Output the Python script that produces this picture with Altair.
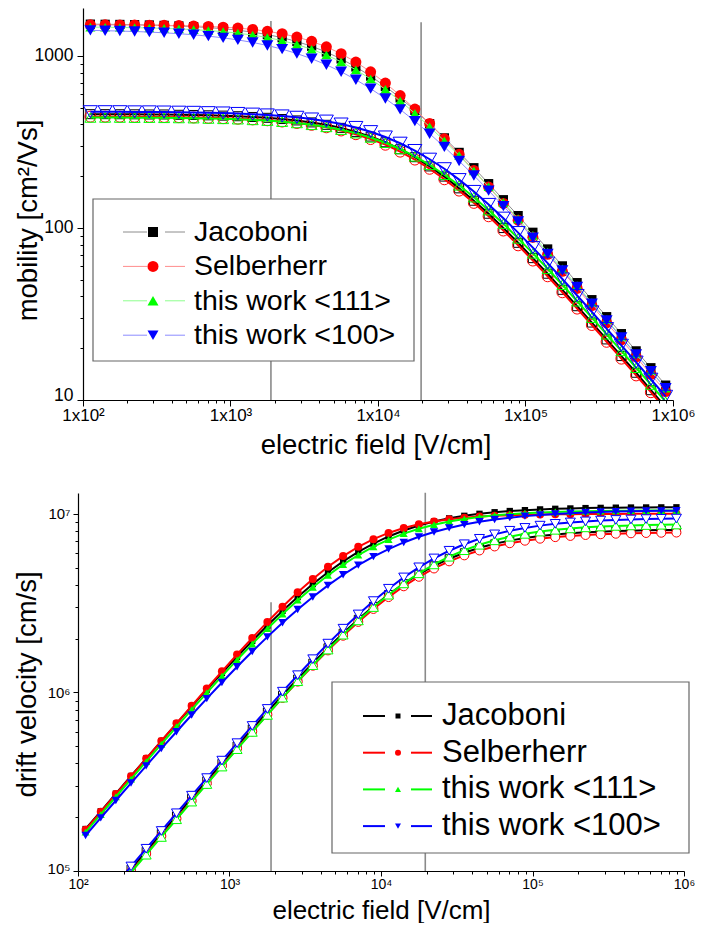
import altair as alt
import pandas as pd

# ---------------- data ----------------
E_FIELD = [112.2, 141.3, 177.8, 223.9, 281.8, 354.8, 446.7, 562.3, 707.9, 891.3,
           1122, 1413, 1778, 2239, 2818, 3548, 4467, 5623, 7079, 8913,
           11220, 14130, 17780, 22390, 28180, 35480, 44670, 56230, 70790, 89130,
           112200, 141300, 177800, 223900, 281800, 354800, 446700, 562300, 707900, 891300]

MODELS = ["Jacoboni", "Selberherr", "this work <111>", "this work <100>"]

# mobility [cm2/Vs], solid symbols
MU_JAC_F = [1531, 1528, 1525, 1520, 1514, 1506, 1495, 1481, 1463, 1441, 1412, 1376, 1332, 1278, 1214, 1139, 1054, 962, 864, 764,
            665, 571, 483, 404, 334, 275, 224, 181, 146, 118, 94.4, 75.5, 60.2, 48.1, 38.3, 30.5, 24.3, 19.3, 15.4, 12.2]
MU_SEL_F = [1518, 1517, 1516, 1514, 1511, 1507, 1502, 1495, 1485, 1471, 1453, 1427, 1392, 1347, 1289, 1217, 1130, 1031, 922, 809,
            696, 589, 491, 405, 330, 268, 216, 173, 139, 111, 88.3, 70.3, 56.0, 44.5, 35.4, 28.1, 22.4, 17.8, 14.1, 11.2]
MU_111_F = [1472, 1469, 1465, 1461, 1455, 1447, 1437, 1423, 1406, 1385, 1357, 1323, 1280, 1228, 1166, 1094, 1013, 925, 831, 735,
            639, 548, 464, 388, 321, 264, 215, 174, 141, 113, 90.7, 72.5, 57.9, 46.2, 36.8, 29.3, 23.3, 18.5, 14.8, 11.7]
MU_100_F = [1409, 1403, 1396, 1388, 1377, 1364, 1348, 1328, 1304, 1275, 1240, 1199, 1151, 1096, 1033, 964, 889, 810, 728, 646,
            566, 489, 418, 353, 296, 245, 202, 165, 134, 109, 87.8, 70.7, 56.7, 45.4, 36.3, 29.0, 23.1, 18.4, 14.7, 11.7]
# mobility, open symbols
MU_JAC_O = [459, 459, 458.5, 458, 457, 457, 455, 454, 452, 450, 446.5, 442, 437, 430, 422, 411, 398, 382, 362, 340,
            315, 287, 258, 228, 199, 170, 144, 121, 99.9, 82.0, 66.8, 54.2, 43.7, 35.1, 28.2, 22.5, 18.0, 14.4, 11.4, 9.11]
MU_SEL_O = [444, 444, 443.5, 443, 442.5, 442, 441, 439, 437, 435, 432, 428, 423, 416, 408, 398, 385, 369, 351, 329,
            305, 278, 250, 221, 192, 165, 140, 117, 96.7, 79.3, 64.7, 52.4, 42.3, 34.0, 27.3, 21.8, 17.4, 13.9, 11.1, 8.82]
MU_111_O = [439, 439, 438.7, 438, 438, 437, 436, 435, 433, 431, 429, 425, 421, 415, 408, 398, 387, 373, 356, 336,
            313, 288, 261, 233, 204, 177, 151, 127, 106, 87.0, 71.2, 57.9, 46.8, 37.5, 30.1, 24.1, 19.3, 15.4, 12.3, 9.77]
MU_100_O = [474, 474, 474, 473, 473, 472, 471, 470, 468, 466, 463, 459, 454, 448, 440, 430, 418, 402, 384, 363,
            338, 311, 282, 251, 221, 191, 163, 137, 114, 94.0, 76.9, 62.5, 50.5, 40.5, 32.5, 26.0, 20.8, 16.6, 13.2, 10.5]

# drift velocity [cm/s], solid symbols
V_JAC_F = [1.718e5, 2.159e5, 2.711e5, 3.403e5, 4.262e5, 5.341e5, 6.682e5, 8.328e5, 1.036e6, 1.284e6,
           1.584e6, 1.943e6, 2.367e6, 2.860e6, 3.419e6, 4.040e6, 4.709e6, 5.410e6, 6.117e6, 6.809e6,
           7.463e6, 8.061e6, 8.589e6, 9.043e6, 9.426e6, 9.740e6, 9.995e6, 1.020e7, 1.036e7, 1.048e7,
           1.058e7, 1.066e7, 1.071e7, 1.076e7, 1.079e7, 1.082e7, 1.084e7, 1.085e7, 1.086e7, 1.087e7]
V_SEL_F = [1.703e5, 2.144e5, 2.695e5, 3.389e5, 4.258e5, 5.348e5, 6.711e5, 8.408e5, 1.051e6, 1.312e6,
           1.630e6, 2.016e6, 2.476e6, 3.016e6, 3.633e6, 4.317e6, 5.049e6, 5.797e6, 6.528e6, 7.208e6,
           7.810e6, 8.320e6, 8.734e6, 9.062e6, 9.312e6, 9.500e6, 9.639e6, 9.741e6, 9.814e6, 9.871e6,
           9.907e6, 9.936e6, 9.954e6, 9.968e6, 9.976e6, 9.982e6, 9.988e6, 9.991e6, 9.995e6, 9.996e6]
V_111_F = [1.650e5, 2.074e5, 2.604e5, 3.269e5, 4.094e5, 5.130e5, 6.418e5, 8.000e5, 9.947e5, 1.233e6,
           1.521e6, 1.867e6, 2.274e6, 2.747e6, 3.284e6, 3.880e6, 4.523e6, 5.196e6, 5.876e6, 6.541e6,
           7.169e6, 7.743e6, 8.250e6, 8.686e6, 9.054e6, 9.356e6, 9.601e6, 9.796e6, 9.950e6, 1.007e7,
           1.016e7, 1.024e7, 1.029e7, 1.033e7, 1.037e7, 1.039e7, 1.041e7, 1.042e7, 1.044e7, 1.044e7]
V_100_F = [1.580e5, 1.982e5, 2.482e5, 3.108e5, 3.880e5, 4.839e5, 6.022e5, 7.467e5, 9.231e5, 1.136e6,
           1.391e6, 1.694e6, 2.046e6, 2.454e6, 2.911e6, 3.420e6, 3.971e6, 4.555e6, 5.154e6, 5.758e6,
           6.346e6, 6.909e6, 7.431e6, 7.907e6, 8.330e6, 8.699e6, 9.018e6, 9.287e6, 9.513e6, 9.701e6,
           9.855e6, 9.981e6, 1.008e7, 1.017e7, 1.023e7, 1.029e7, 1.033e7, 1.037e7, 1.039e7, 1.041e7]
# drift velocity, open symbols
V_JAC_O = [5.153e4, 6.487e4, 8.155e4, 1.025e5, 1.289e5, 1.621e5, 2.034e5, 2.554e5, 3.198e5, 4.008e5,
           5.014e5, 6.250e5, 7.771e5, 9.636e5, 1.189e6, 1.459e6, 1.777e6, 2.146e6, 2.566e6, 3.032e6,
           3.534e6, 4.060e6, 4.591e6, 5.110e6, 5.601e6, 6.049e6, 6.446e6, 6.786e6, 7.074e6, 7.310e6,
           7.501e6, 7.653e6, 7.774e6, 7.868e6, 7.940e6, 7.997e6, 8.040e6, 8.074e6, 8.099e6, 8.119e6]
V_SEL_O = [4.983e4, 6.273e4, 7.886e4, 9.912e4, 1.247e5, 1.567e5, 1.967e5, 2.470e5, 3.093e5, 3.876e5,
           4.849e5, 6.044e5, 7.515e5, 9.318e5, 1.149e6, 1.410e6, 1.718e6, 2.076e6, 2.481e6, 2.932e6,
           3.417e6, 3.926e6, 4.439e6, 4.941e6, 5.416e6, 5.850e6, 6.233e6, 6.562e6, 6.841e6, 7.068e6,
           7.254e6, 7.401e6, 7.517e6, 7.608e6, 7.678e6, 7.733e6, 7.775e6, 7.807e6, 7.832e6, 7.851e6]
V_111_O = [4.929e4, 6.206e4, 7.805e4, 9.816e4, 1.234e5, 1.551e5, 1.949e5, 2.446e5, 3.068e5, 3.843e5,
           4.812e5, 6.008e5, 7.481e5, 9.342e5, 1.155e6, 1.421e6, 1.737e6, 2.105e6, 2.530e6, 3.005e6,
           3.523e6, 4.076e6, 4.643e6, 5.207e6, 5.748e6, 6.252e6, 6.706e6, 7.101e6, 7.438e6, 7.719e6,
           7.949e6, 8.133e6, 8.279e6, 8.394e6, 8.484e6, 8.553e6, 8.607e6, 8.648e6, 8.680e6, 8.704e6]
V_100_O = [5.322e4, 6.701e4, 8.428e4, 1.060e5, 1.332e5, 1.675e5, 2.105e5, 2.641e5, 3.312e5, 4.149e5,
           5.196e5, 6.487e5, 8.077e5, 1.009e6, 1.248e6, 1.534e6, 1.875e6, 2.273e6, 2.731e6, 3.244e6,
           3.804e6, 4.401e6, 5.013e6, 5.622e6, 6.207e6, 6.751e6, 7.241e6, 7.668e6, 8.031e6, 8.335e6,
           8.582e6, 8.781e6, 8.939e6, 9.063e6, 9.160e6, 9.235e6, 9.293e6, 9.337e6, 9.372e6, 9.398e6]

# vertical guide lines
RULE_E = [1880, 19600]
RULE_MU_TOP = [1600, 1570]
RULE_V_TOP = [3.2e6, 1.31e7]

# axes
X_DECADES = [100, 1000, 10000, 100000, 1000000]
TOP_X_LABELS = ["1x10²", "1x10³", "1x10⁴", "1x10⁵", "1x10⁶"]
BOT_X_LABELS = ["10²", "10³", "10⁴", "10⁵", "10⁶"]
TOP_Y_DECADES = [10, 100, 1000]
TOP_Y_LABELS = ["10", "100", "1000"]
BOT_Y_DECADES = [100000, 1000000, 10000000]
BOT_Y_LABELS = ["10⁵", "10⁶", "10⁷"]

# ---------------- styling ----------------
FONT = "Liberation Sans"
SAT = ["#000000", "#ff0000", "#00ff00", "#0000ff"]
LIGHT = ["#8c8c8c", "#ff8c8c", "#8cff8c", "#8c8cff"]
SHAPES = ["square", "circle", "triangle-up", "triangle-down"]


def log_ticks(lo, hi):
    return [m * 10 ** e for e in range(lo, hi) for m in range(1, 10)] + [10 ** hi]


def label_expr(vals, labels):
    return "".join(f"datum.value=={v}?'{l}':" for v, l in zip(vals, labels)) + "''"


def tick_size(decades, major, minor):
    arr = ",".join(str(d) for d in decades)
    return {"condition": {"test": f"indexof([{arr}], datum.value) >= 0", "value": major}, "value": minor}


def axis(values, decades, labels, title, lab_size, title_size, tmaj, tmin, lpad, **kw):
    return alt.Axis(values=values, labelExpr=label_expr(decades, labels), tickSize=tick_size(decades, tmaj, tmin),
                    labelFontSize=lab_size, labelFont=FONT, labelColor="black", labelPadding=lpad,
                    labelOverlap=False, labelFlush=False, title=title, titleFont=FONT, titleFontSize=title_size,
                    titleFontWeight="normal", titleColor="black", titleBaseline="middle",
                    domainColor="black", domainWidth=1.2, tickColor="black", tickWidth=1, grid=False, **kw)


def panel(series_f, series_o, ydom, xdom, w, h, xax, yax, rule_hi, st, leg):
    X = alt.X("E:Q", scale=alt.Scale(type="log", domain=xdom, nice=False), axis=xax)
    Y = alt.Y("v:Q", scale=alt.Scale(type="log", domain=ydom, nice=False), axis=yax)
    layers = []
    rdf = pd.DataFrame({"E": RULE_E, "v": [ydom[0]] * len(RULE_E), "v2": rule_hi})
    layers.append(alt.Chart(rdf).mark_rule(color="#8a8a8a", strokeWidth=1.6).encode(x=X, y=Y, y2="v2:Q"))
    for grp, series in (("f", series_f), ("o", series_o)):
        for i, vals in enumerate(series):
            df = pd.DataFrame({"E": E_FIELD, "v": vals})
            lc = st[grp + "_line_color"][i]
            layers.append(alt.Chart(df).mark_line(color=lc, strokeWidth=st[grp + "_line_w"], clip=True)
                          .encode(x=X, y=Y))
            size = st[grp + "_size"][i]
            if grp == "f":
                pm = alt.Chart(df).mark_point(shape=SHAPES[i], size=size, filled=True, color=SAT[i],
                                              opacity=1, clip=True)
            else:
                pm = alt.Chart(df).mark_point(shape=SHAPES[i], size=size, fill=st["o_fill"], stroke=SAT[i],
                                              strokeWidth=1, opacity=1, fillOpacity=1, strokeOpacity=1, clip=True)
            layers.append(pm.encode(x=X, y=Y))
    # legend
    dummy = pd.DataFrame({"k": [0]})
    layers.append(alt.Chart(dummy).mark_rect(fill="white", stroke="#666666", strokeWidth=1.2)
                  .encode(x=alt.value(leg["box"][0]), x2=alt.value(leg["box"][1]),
                          y=alt.value(leg["box"][2]), y2=alt.value(leg["box"][3])))
    for i, name in enumerate(MODELS):
        yy = leg["y0"] + i * leg["dy"]
        for (a, b) in leg["segs"]:
            layers.append(alt.Chart(dummy).mark_rule(color=leg["line_color"][i], strokeWidth=leg["line_w"])
                          .encode(x=alt.value(a), x2=alt.value(b), y=alt.value(yy)))
        layers.append(alt.Chart(dummy).mark_point(shape=SHAPES[i], size=leg["msize"][i], filled=True,
                                                  color=SAT[i], opacity=1)
                      .encode(x=alt.value(leg["xm"]), y=alt.value(yy)))
        layers.append(alt.Chart(dummy).mark_text(text=name, align="left", baseline="middle", font=FONT,
                                                 fontSize=leg["fs"], color="black")
                      .encode(x=alt.value(leg["xt"]), y=alt.value(yy)))
    return alt.layer(*layers).properties(width=w, height=h)


def low_label_shift(v, dy):
    return {"condition": {"test": f"datum.value == {v}", "value": dy}, "value": 0}


# top panel: mobility
top_xax = axis(log_ticks(2, 6), X_DECADES, TOP_X_LABELS, "electric field [V/cm]", 17, 27.5, 6, 3, 1,
               titleY=45)
top_yax = axis(log_ticks(1, 3), TOP_Y_DECADES, TOP_Y_LABELS, "mobility [cm²/Vs]", 17.5, 27.5, 6, 3, 4,
               offset=-5, titleX=-55, titleY=212, labelOffset=low_label_shift(10, -5))
top_style = {"f_line_color": LIGHT, "f_line_w": 1, "o_line_color": SAT, "o_line_w": 2,
             "f_size": [86, 121, 100, 144], "o_size": [81, 121, 121, 196], "o_fill": "transparent"}
top_leg = {"box": [15, 336, 191, 353], "y0": 224, "dy": 34.4, "segs": [(45, 69), (87, 107)], "xm": 75,
           "xt": 116, "fs": 28.5, "line_color": LIGHT, "line_w": 1, "msize": [100, 121, 121, 121]}
top = panel([MU_JAC_F, MU_SEL_F, MU_111_F, MU_100_F], [MU_JAC_O, MU_SEL_O, MU_111_O, MU_100_O],
            [10, 1901], [92.5, 1000000], 595, 392, top_xax, top_yax, RULE_MU_TOP, top_style, top_leg)

# bottom panel: drift velocity
bot_xax = axis(log_ticks(2, 6), X_DECADES, BOT_X_LABELS, "electric field [V/cm]", 14, 26, 5, 3, 1,
               titleY=39)
bot_yax = axis(log_ticks(5, 7), BOT_Y_DECADES, BOT_Y_LABELS, "drift velocity [cm/s]", 15, 27.5, 5, 3, 3,
               titleX=-51, titleY=191, labelOffset=low_label_shift(100000, -3))
bot_style = {"f_line_color": SAT, "f_line_w": 2, "o_line_color": SAT, "o_line_w": 2,
             "f_size": [40, 64, 64, 72], "o_size": [64, 81, 100, 100], "o_fill": "white"}
bot_leg = {"box": [254, 611, 189, 360], "y0": 223, "dy": 36.7, "segs": [(285, 307), (333, 354)], "xm": 320,
           "xt": 364, "fs": 31, "line_color": SAT, "line_w": 2, "msize": [25, 36, 36, 36]}
bottom = panel([V_JAC_F, V_SEL_F, V_111_F, V_100_F], [V_JAC_O, V_SEL_O, V_111_O, V_100_O],
               [100000, 13070000], [100, 1000000], 606, 378, bot_xax, bot_yax, RULE_V_TOP, bot_style, bot_leg)

chart = (alt.vconcat(top, bottom, spacing=33)
         .properties(padding={"left": 5, "top": 0, "right": 5, "bottom": 0})
         .configure_view(stroke=None))

chart.save("out.html", embed_options={"renderer": "svg", "actions": False})
